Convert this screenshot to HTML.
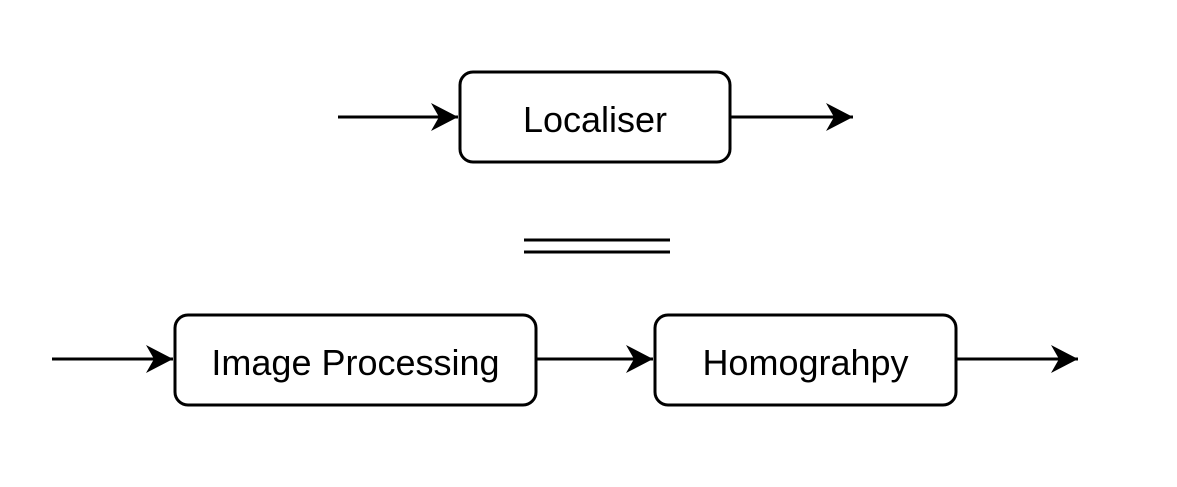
<!DOCTYPE html>
<html><head><meta charset="utf-8"><style>
html,body{margin:0;padding:0;background:#fff;}
svg{display:block;}
text{font-family:"Liberation Sans",Arial,sans-serif;font-size:36px;fill:#000;}
</style></head><body>
<svg width="1177" height="487" viewBox="0 0 1177 487" xmlns="http://www.w3.org/2000/svg">
<defs>
<marker id="a" markerUnits="userSpaceOnUse" markerWidth="40" markerHeight="40" refX="27" refY="14" orient="auto" overflow="visible">
<path d="M0,0 L27,14 L0,28 L8,14 Z" fill="#000"/>
</marker>
</defs>
<g stroke="#000" stroke-width="3" fill="none">
<rect x="460" y="72" width="270" height="90" rx="13"/>
<rect x="175" y="315" width="361" height="90" rx="13"/>
<rect x="655" y="315" width="301" height="90" rx="13"/>
<line x1="338" y1="117" x2="458" y2="117" marker-end="url(#a)"/>
<line x1="731" y1="117" x2="853" y2="117" marker-end="url(#a)"/>
<line x1="52" y1="359" x2="173" y2="359" marker-end="url(#a)"/>
<line x1="537" y1="359" x2="653" y2="359" marker-end="url(#a)"/>
<line x1="957" y1="359" x2="1078" y2="359" marker-end="url(#a)"/>
<line x1="524" y1="240" x2="670" y2="240"/>
<line x1="524" y1="252" x2="670" y2="252"/>
</g>
<text x="595" y="132" text-anchor="middle">Localiser</text>
<text x="355.5" y="375" text-anchor="middle">Image Processing</text>
<text x="805.5" y="375" text-anchor="middle">Homograhpy</text>
</svg>
</body></html>
